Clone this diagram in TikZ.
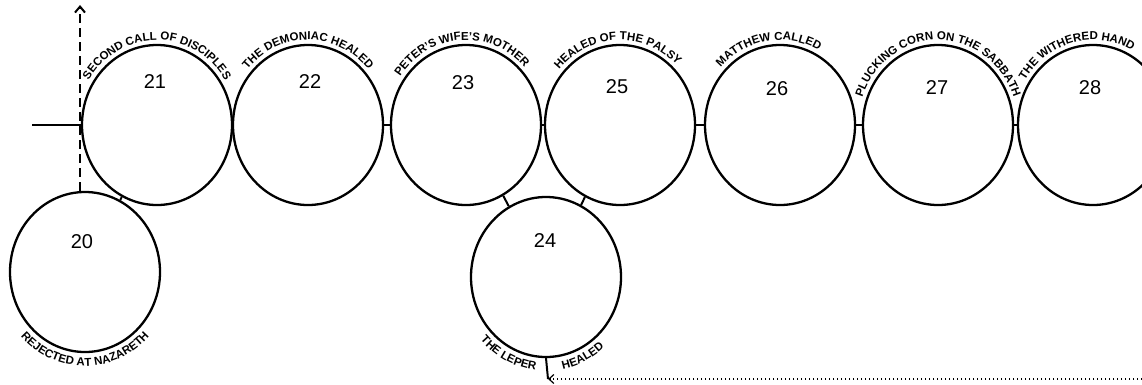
\documentclass[tikz,border=0pt]{standalone}
\usepackage{fontspec}
\setmainfont{Liberation Sans}
\usetikzlibrary{arrows.meta, positioning, calc, shapes.geometric, decorations.text}

\tikzset{
  disc/.style={draw, ellipse, line width=2.3pt, minimum width=150pt, minimum height=160pt, inner sep=0pt},
  num/.style={font=\fontsize{20}{20}\selectfont},
  link/.style={line width=2pt},
}
% text bent over the top of a circle
\newcommand{\toplabel}[3]{%
  \path[decorate, decoration={text along path, text align=center,
      text={|\fontsize{11.5}{12}\selectfont\bfseries|#3}}]
    (#1.center) ++(#2+85:80pt and 85pt)
    arc[start angle=#2+85, end angle=#2-85, x radius=80pt, y radius=85pt];}
% text bent under the bottom of a circle
\newcommand{\botlabel}[4]{%
  \path[decorate, decoration={text along path, text align=center,
      text={|\fontsize{11.5}{12}\selectfont\bfseries|#4}}]
    (#1.center) ++(#2-#3:88pt and 94pt)
    arc[start angle=#2-#3, end angle=#2+#3, x radius=88pt, y radius=94pt];}

\begin{document}
\begin{tikzpicture}[x=1pt, y=1pt, >=Stealth, line width=2pt]
    \clip (0,0) rectangle (1142,384);

    % Top row of circles
    \node[disc] (c21) at (157,259) {};
    \node[disc] (c22) at (308,259) {};
    \node[disc] (c23) at (466,259) {};
    \node[disc] (c25) at (620,259) {};
    \node[disc] (c26) at (780,259) {};
    \node[disc] (c27) at (938,259) {};
    \node[disc] (c28) at (1093,259) {};

    % Circles hanging below
    \node[disc] (c20) at (85,112) {};
    \node[disc] (c24) at (546,107) {};

    % Numbers
    \node[num] (n21) at ($(c21)+(-2,43)$) {21};
    \node[num] (n22) at ($(c22)+(2,43)$) {22};
    \node[num] (n23) at ($(c23)+(-3,42)$) {23};
    \node[num] (n25) at ($(c25)+(-3,38)$) {25};
    \node[num] (n26) at ($(c26)+(-3,36)$) {26};
    \node[num] (n27) at ($(c27)+(-1,37)$) {27};
    \node[num] (n28) at ($(c28)+(-3,37)$) {28};
    \node[num] (n20) at ($(c20)+(-3,30)$) {20};
    \node[num] (n24) at ($(c24)+(-1,36)$) {24};

    % Links between circles
    \draw[link] (c22) -- (c23);
    \draw[link] (c23) -- (c25);
    \draw[link] (c25) -- (c26);
    \draw[link] (c26) -- (c27);
    \draw[link] (c27) -- (c28);
    \draw[link] (c20) -- (c21);
    \draw[link] (c24) -- (c23);
    \draw[link] (c24) -- (c25);

    % Titles
    \toplabel{c21}{90}{SECOND CALL OF DISCIPLES}
    \toplabel{c22}{90}{THE DEMONIAC HEALED}
    \toplabel{c23}{94}{PETER'S WIFE'S MOTHER}
    \toplabel{c25}{92}{HEALED OF THE PALSY}
    \toplabel{c26}{99}{MATTHEW CALLED}
    \toplabel{c27}{90}{PLUCKING CORN ON THE SABBATH}
    \toplabel{c28}{104}{THE WITHERED HAND}
    \botlabel{c20}{270}{85}{REJECTED AT NAZARETH}
    \botlabel{c24}{243}{40}{THE LEPER}
    \botlabel{c24}{296}{30}{HEALED}

    % Dashed axis and tick on the left
    \coordinate (up) at (80,379);
    \coordinate (tick) at (32,259);
    \draw[dash pattern=on 9pt off 5pt, -{Straight Barb[length=6pt, width=10pt]}] (up |- c20.north) -- (up);
    \draw (tick) -- (c21.west);

    % Line out of 24 and dotted return
    \coordinate (turn) at (548,5);
    \coordinate (far) at (1142,5);
    \draw (c24.south) -- (turn);
    \draw[line width=1.2pt, dash pattern=on 1.5pt off 2.5pt, -{Straight Barb[length=5pt, width=9pt]}] (far) -- (turn);
\end{tikzpicture}
\end{document}
